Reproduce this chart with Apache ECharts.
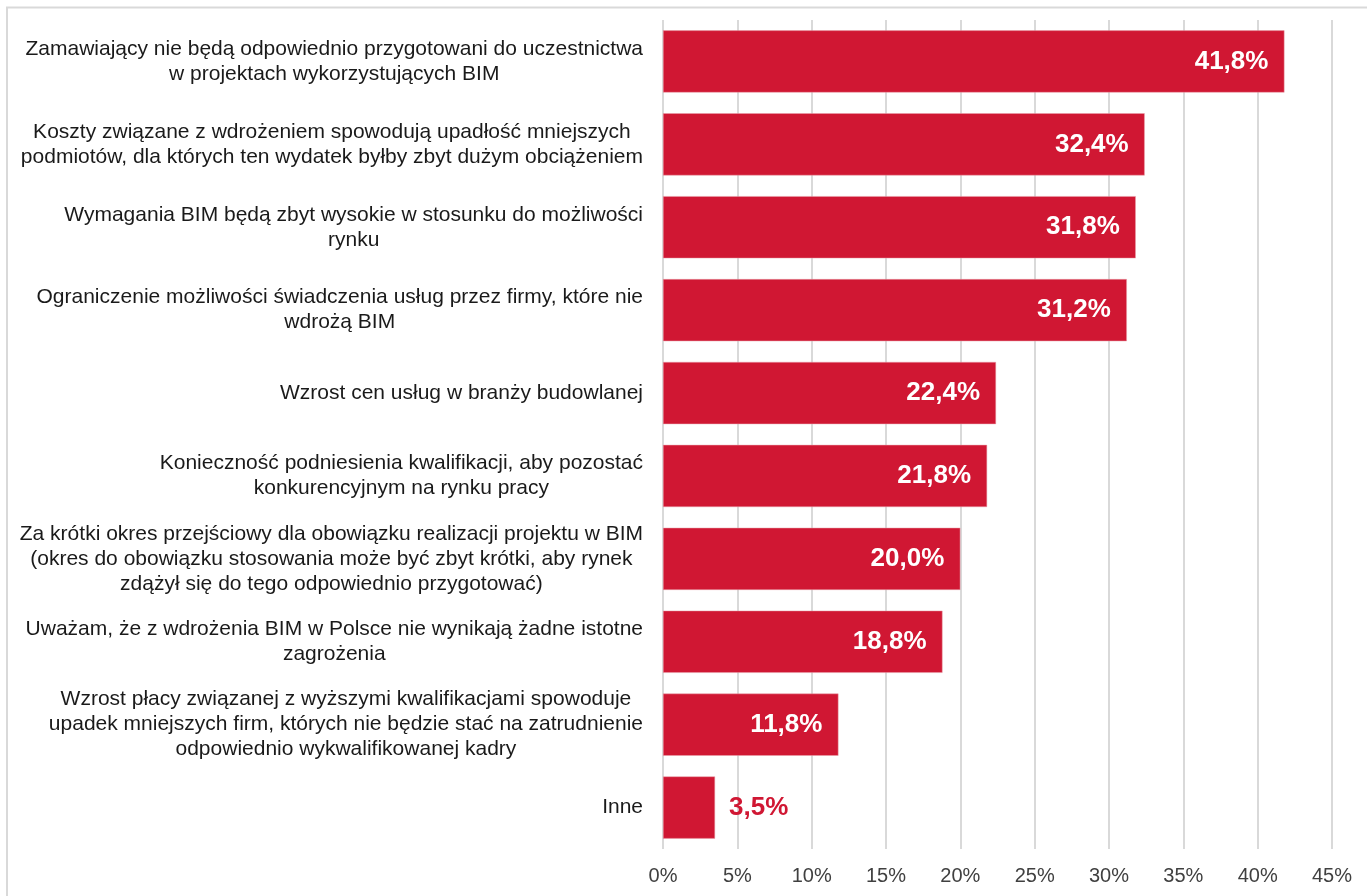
<!DOCTYPE html>
<html>
<head>
<meta charset="utf-8">
<script src="https://cdn.jsdelivr.net/npm/echarts@6/dist/echarts.min.js"></script>
<style>
  html, body { margin: 0; padding: 0; background: #ffffff; }
  #chart { width: 1367px; height: 896px; }
</style>
</head>
<body>
<div id="chart"></div>
<script>
// Threats named by respondents (share of answers, %)
const categories = [
  'Zamawiający nie będą odpowiednio przygotowani do uczestnictwa\nw projektach wykorzystujących BIM',
  'Koszty związane z wdrożeniem spowodują upadłość mniejszych\npodmiotów, dla których ten wydatek byłby zbyt dużym obciążeniem',
  'Wymagania BIM będą zbyt wysokie w stosunku do możliwości\nrynku',
  'Ograniczenie możliwości świadczenia usług przez firmy, które nie\nwdrożą BIM',
  'Wzrost cen usług w branży budowlanej',
  'Konieczność podniesienia kwalifikacji, aby pozostać\nkonkurencyjnym na rynku pracy',
  'Za krótki okres przejściowy dla obowiązku realizacji projektu w BIM\n(okres do obowiązku stosowania może być zbyt krótki, aby rynek\nzdążył się do tego odpowiednio przygotować)',
  'Uważam, że z wdrożenia BIM w Polsce nie wynikają żadne istotne\nzagrożenia',
  'Wzrost płacy związanej z wyższymi kwalifikacjami spowoduje\nupadek mniejszych firm, których nie będzie stać na zatrudnienie\nodpowiednio wykwalifikowanej kadry',
  'Inne'
];
const values = [41.8, 32.4, 31.8, 31.2, 22.4, 21.8, 20.0, 18.8, 11.8, 3.5];
const axisTicks = { min: 0, max: 45, interval: 5 };

const RED = '#d01733';
const fmtPct = v => v.toFixed(1).replace('.', ',') + '%';

// Short bars get their value label outside the bar, in the bar colour
const barData = values.map(v => v < 5
  ? { value: v, label: { position: 'right', distance: 14, color: RED } }
  : v);

const chart = echarts.init(document.getElementById('chart'), null, { renderer: 'canvas' });
chart.setOption({
  animation: false,
  backgroundColor: '#ffffff',
  graphic: [{
    type: 'polyline',
    silent: true,
    shape: { points: [[7, 896], [7, 7.5], [1367, 7.5]] },
    style: { stroke: '#d9d9d9', lineWidth: 2, fill: null }
  }],
  grid: { left: 663, right: 35, top: 20, bottom: 47, containLabel: false },
  xAxis: {
    type: 'value',
    min: axisTicks.min,
    max: axisTicks.max,
    interval: axisTicks.interval,
    axisLine: { show: false },
    axisTick: { show: false },
    splitLine: { show: true, lineStyle: { color: '#d9d9d9', width: 2 } },
    axisLabel: {
      formatter: v => v + '%',
      fontFamily: 'Liberation Sans, Arial, sans-serif',
      fontSize: 20,
      color: '#404040',
      margin: 17
    }
  },
  yAxis: {
    type: 'category',
    inverse: true,
    data: categories,
    axisLine: { show: false },
    axisTick: { show: false },
    splitLine: { show: false },
    axisLabel: {
      margin: 20,
      formatter: v => v.split('\n').map(l => '{c|' + l + '}').join('\n'),
      rich: {
        c: {
          align: 'center',
          fontFamily: 'Liberation Sans, Arial, sans-serif',
          fontSize: 21,
          lineHeight: 25,
          color: '#1a1a1a'
        }
      }
    }
  },
  series: [{
    type: 'bar',
    data: barData,
    barCategoryGap: '25%',
    itemStyle: { color: RED, borderColor: '#e8a0ab', borderWidth: 0.5 },
    label: {
      show: true,
      position: 'insideRight',
      distance: 16,
      formatter: p => fmtPct(p.value),
      fontFamily: 'Liberation Sans, Arial, sans-serif',
      fontWeight: 'bold',
      fontSize: 26,
      color: '#ffffff'
    }
  }]
});
</script>
</body>
</html>
